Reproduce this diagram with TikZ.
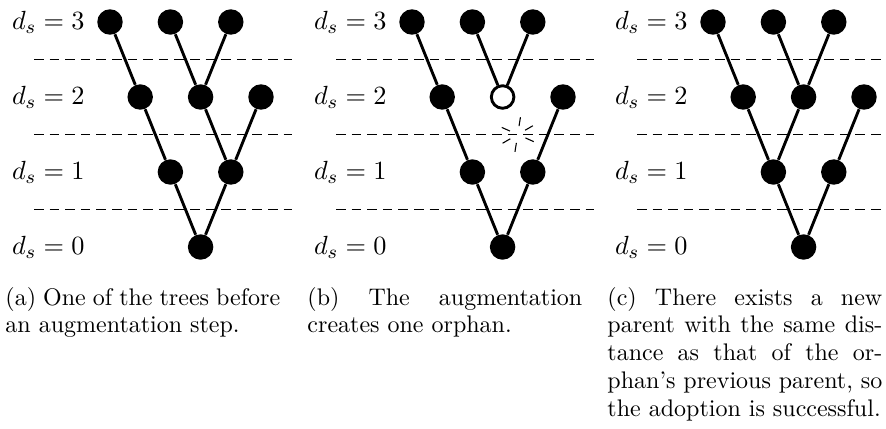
\documentclass[tikz,border=0pt]{standalone}
\usetikzlibrary{calc}
\begin{document}
\begin{tikzpicture}[x=0.41667pt,y=-0.41667pt,
  dot/.style={circle,fill=black,inner sep=0pt,minimum size=10.6pt},
  orphan/.style={circle,draw=black,fill=white,line width=1.2pt,inner sep=0pt,minimum size=9.4pt},
  edge/.style={line width=1.2pt},
  level/.style={line width=0.5pt,dash pattern=on 4pt off 2.5pt},
  spark/.style={line width=0.45pt},
  lab/.style={anchor=east,inner sep=0pt,font=\fontsize{11}{13}\selectfont},
  captext/.style={anchor=base west,inner sep=0pt,text width=114.5pt,align=justify,font=\fontsize{10}{11.6}\selectfont}]
\useasboundingbox (0,0) rectangle (886,428);

% ---------- panel (a) ----------
\begin{scope}
  \draw[level] (34,59.5) -- (292,59.5);
  \draw[level] (34,134.5) -- (292,134.5);
  \draw[level] (34,209.5) -- (292,209.5);
  \node[lab] (aL3) at (85,22) {$d_s = 3$};
  \node[lab] (aL2) at (85,97) {$d_s = 2$};
  \node[lab] (aL1) at (85,172) {$d_s = 1$};
  \node[lab] (aL0) at (85,247) {$d_s = 0$};
  \node[dot] (a3a) at (110,22) {};
  \node[dot] (a3b) at (170.4,22) {};
  \node[dot] (a3c) at (230.8,22) {};
  \node[dot] (a2a) at (140.2,97) {};
  \node[dot] (a2b) at (200.6,97) {};
  \node[dot] (a2c) at (261,97) {};
  \node[dot] (a1a) at (170.4,172) {};
  \node[dot] (a1b) at (230.8,172) {};
  \node[dot] (a0) at (200.6,247) {};
  \draw[edge] (a3a) -- (a2a);
  \draw[edge] (a3b) -- (a2b);
  \draw[edge] (a3c) -- (a2b);
  \draw[edge] (a2a) -- (a1a);
  \draw[edge] (a2b) -- (a1b);
  \draw[edge] (a2c) -- (a1b);
  \draw[edge] (a1a) -- (a0);
  \draw[edge] (a1b) -- (a0);
  \node[captext] (capa) at (5,305) {(a) One of the trees before\linebreak an augmentation step.};
\end{scope}

% ---------- panel (b) ----------
\begin{scope}[shift={(302,0)}]
  \draw[level] (34,59.5) -- (292,59.5);
  \draw[level] (34,134.5) -- (292,134.5);
  \draw[level] (34,209.5) -- (292,209.5);
  \node[lab] (bL3) at (85,22) {$d_s = 3$};
  \node[lab] (bL2) at (85,97) {$d_s = 2$};
  \node[lab] (bL1) at (85,172) {$d_s = 1$};
  \node[lab] (bL0) at (85,247) {$d_s = 0$};
  \node[dot] (b3a) at (110,22) {};
  \node[dot] (b3b) at (170.4,22) {};
  \node[dot] (b3c) at (230.8,22) {};
  \node[dot] (b2a) at (140.2,97) {};
  \node[orphan] (b2b) at (200.6,97) {};
  \node[dot] (b2c) at (261,97) {};
  \node[dot] (b1a) at (170.4,172) {};
  \node[dot] (b1b) at (230.8,172) {};
  \node[dot] (b0) at (200.6,247) {};
  \draw[edge] (b3a) -- (b2a);
  \draw[edge] (b3b) -- (b2b);
  \draw[edge] (b3c) -- (b2b);
  \draw[edge] (b2a) -- (b1a);
  \draw[edge] (b2c) -- (b1b);
  \draw[edge] (b1a) -- (b0);
  \draw[edge] (b1b) -- (b0);
  \coordinate (cut) at ($(b2b.center)!0.5!(b1b.center)$);
  \foreach \a in {-81,-30,24} {
    \draw[spark] ($(cut)+(\a:8.5)$) -- ($(cut)+(\a:17.5)$);
    \draw[spark] ($(cut)+(\a+180:8.5)$) -- ($(cut)+(\a+180:17.5)$);
  }
  \node[captext] (capb) at (5,305) {(b) The augmentation\linebreak creates one orphan.};
\end{scope}

% ---------- panel (c) ----------
\begin{scope}[shift={(603,0)}]
  \draw[level] (34,59.5) -- (283,59.5);
  \draw[level] (34,134.5) -- (283,134.5);
  \draw[level] (34,209.5) -- (283,209.5);
  \node[lab] (cL3) at (85,22) {$d_s = 3$};
  \node[lab] (cL2) at (85,97) {$d_s = 2$};
  \node[lab] (cL1) at (85,172) {$d_s = 1$};
  \node[lab] (cL0) at (85,247) {$d_s = 0$};
  \node[dot] (c3a) at (110,22) {};
  \node[dot] (c3b) at (170.4,22) {};
  \node[dot] (c3c) at (230.8,22) {};
  \node[dot] (c2a) at (140.2,97) {};
  \node[dot] (c2b) at (200.6,97) {};
  \node[dot] (c2c) at (261,97) {};
  \node[dot] (c1a) at (170.4,172) {};
  \node[dot] (c1b) at (230.8,172) {};
  \node[dot] (c0) at (200.6,247) {};
  \draw[edge] (c3a) -- (c2a);
  \draw[edge] (c3b) -- (c2b);
  \draw[edge] (c3c) -- (c2b);
  \draw[edge] (c2a) -- (c1a);
  \draw[edge] (c2b) -- (c1a);
  \draw[edge] (c2c) -- (c1b);
  \draw[edge] (c1a) -- (c0);
  \draw[edge] (c1b) -- (c0);
  \node[captext] (capc) at (4,305) {(c) There exists a new\linebreak parent with the same dis-\linebreak tance as that of the or-\linebreak phan’s previous parent, so\linebreak the adoption is successful.};
\end{scope}
\end{tikzpicture}
\end{document}
